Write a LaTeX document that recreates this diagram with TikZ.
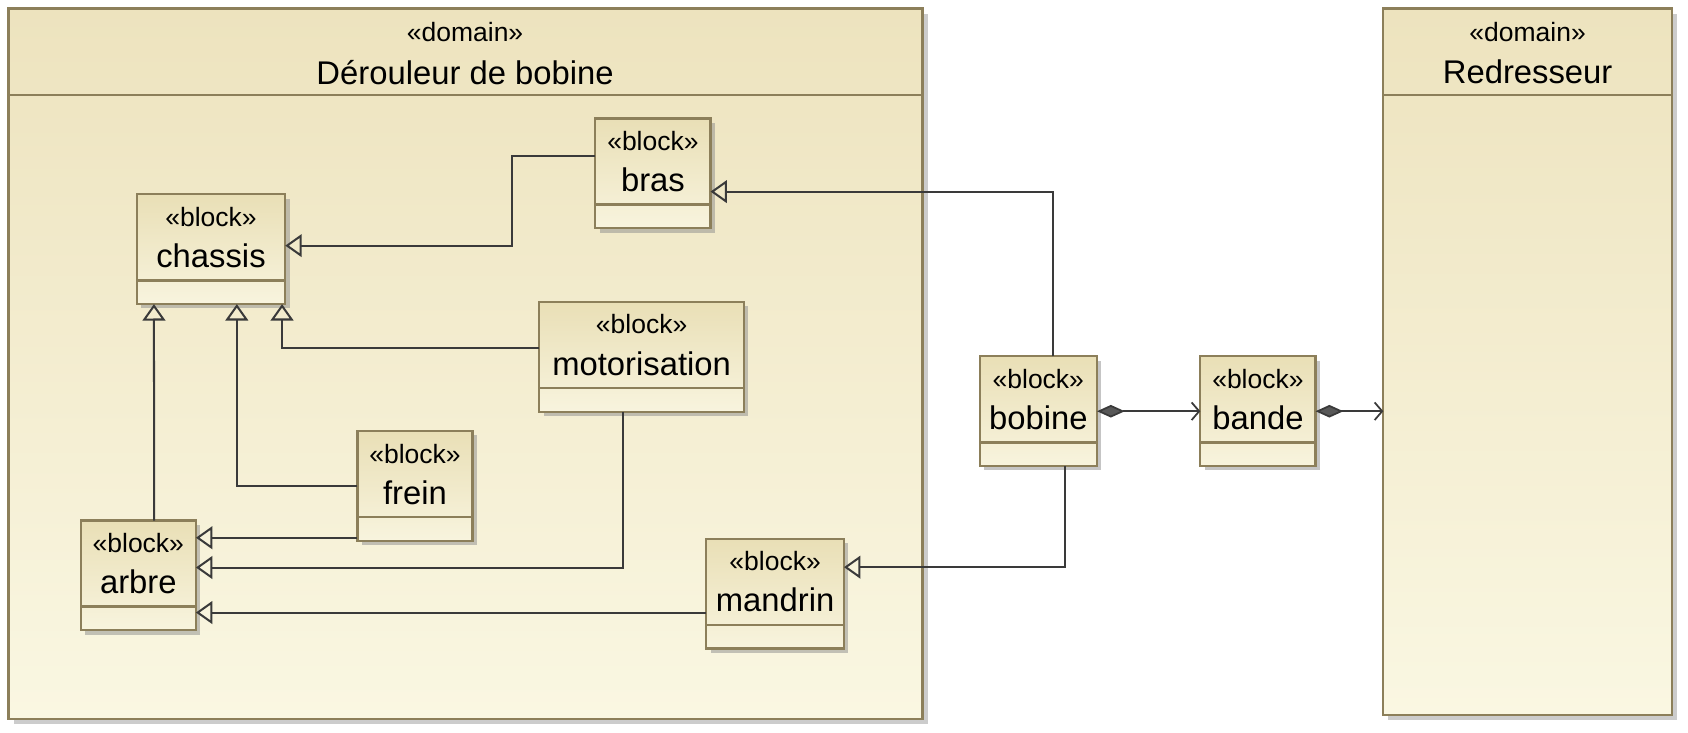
\documentclass[tikz,border=0pt]{standalone}
\usepackage{fontspec}
\setmainfont{Liberation Sans}
\usetikzlibrary{arrows.meta,shadows}
\definecolor{bordc}{HTML}{8C7F5A}
\definecolor{linec}{HTML}{3A3A3A}
\definecolor{domA}{HTML}{EDE3BE}
\definecolor{domB}{HTML}{FAF7E2}
\definecolor{blkA}{HTML}{E9DFB6}
\definecolor{blkB}{HTML}{F8F4DE}
\newcommand\pxu{0.15mm}
\newcommand\stereo[1]{{\fontsize{10.5}{13}\selectfont «#1»}}
\newcommand\blocktext[1]{\stereo{block}\\#1}
\begin{document}
\begin{tikzpicture}[x=0.15mm,y=-0.15mm,inner sep=0pt,outer sep=0pt,
domframe/.style={draw=bordc,line width=0.9pt,top color=domA,bottom color=domB,
  drop shadow={shadow xshift=0.7mm,shadow yshift=-0.7mm,fill=black!40,opacity=0.5}},
blk/.style={draw=bordc,line width=0.9pt,top color=blkA,bottom color=blkB,
  drop shadow={shadow xshift=0.6mm,shadow yshift=-0.6mm,fill=black!45,opacity=0.5},
  minimum height=102*\pxu,align=center,font=\fontsize{13}{16.3}\selectfont,text depth=9.5pt},
gen/.style={draw=linec,line width=0.8pt,-{Triangle[open,length=6.5pt,width=9pt]}},
comp/.style={draw=linec,line width=0.7pt,
  {Diamond[length=11pt,width=5pt,fill=linec!85]}-{Straight Barb[length=3pt,width=7pt]}}]
\useasboundingbox (0,0) rectangle (1568,680);
% domains
\node[domframe,minimum width=849*\pxu,minimum height=660*\pxu] (dom1) at (432.5,338) {};
\node[domframe,minimum width=268*\pxu,minimum height=656*\pxu] (dom2) at (1419,336) {};
\draw[bordc,line width=0.9pt] ([yshift=-12mm]dom1.north west) -- ([yshift=-12mm]dom1.north east);
\draw[bordc,line width=0.9pt] ([yshift=-12mm]dom2.north west) -- ([yshift=-12mm]dom2.north east);
\node (dom1s) at (432,30) {\stereo{domain}};
\node[font=\fontsize{13}{15}\selectfont] (dom1t) at (432,67) {Dérouleur de bobine};
\node (dom2s) at (1419,30) {\stereo{domain}};
\node[font=\fontsize{13}{15}\selectfont] (dom2t) at (1419,67) {Redresseur};
% blocks
\node[blk,minimum width=107*\pxu] (bras) at (606.5,161) {\blocktext{bras}};
\node[blk,minimum width=138*\pxu] (chassis) at (196,231.5) {\blocktext{chassis}};
\node[blk,minimum width=190*\pxu] (motorisation) at (596,331.5) {\blocktext{motorisation}};
\node[blk,minimum width=107*\pxu] (frein) at (385.5,451.5) {\blocktext{frein}};
\node[blk,minimum width=107*\pxu] (arbre) at (128.5,534.5) {\blocktext{arbre}};
\node[blk,minimum width=128*\pxu] (mandrin) at (720,551.5) {\blocktext{mandrin}};
\node[blk,minimum width=109*\pxu] (bobine) at (964.5,382) {\blocktext{bobine}};
\node[blk,minimum width=107*\pxu] (bande) at (1168.5,382) {\blocktext{bande}};
\foreach \b in {bras,chassis,motorisation,frein,arbre,mandrin,bobine,bande}
  \draw[bordc,line width=0.9pt] ([yshift=3.3mm]\b.south west) -- ([yshift=3.3mm]\b.south east);
% generalisations
\draw[gen] ([yshift=2.4mm]bras.west) -- ++(-77,0) |- ([yshift=0.5mm]chassis.east);
\draw[gen] ([xshift=2mm]bobine.north) |- ([yshift=-2.55mm]bras.east);
\draw[gen] ([yshift=1.3mm]motorisation.west) -| ([xshift=9.9mm]chassis.south);
\draw[gen] (frein.west) -| ([xshift=3.6mm]chassis.south);
\draw[gen] ([xshift=2.2mm]arbre.north) -- ([xshift=-7.95mm]chassis.south);
\draw[gen] (frein.south west) ++(0,-3) coordinate (f1) -- (f1 -| arbre.east);
\draw[gen] ([xshift=-2.55mm]motorisation.south) |- ([yshift=1.1mm]arbre.east);
\draw[gen] (mandrin.west) ++(0,17.5) coordinate (m1) -- (m1 -| arbre.east);
\draw[gen] ([xshift=3.7mm]bobine.south) |- ([yshift=3.7mm]mandrin.east);
% compositions
\draw[comp] (bobine.east) -- (bande.west);
\draw[comp] (bande.east) -- (bande.east -| dom2.west);
\end{tikzpicture}
\end{document}
